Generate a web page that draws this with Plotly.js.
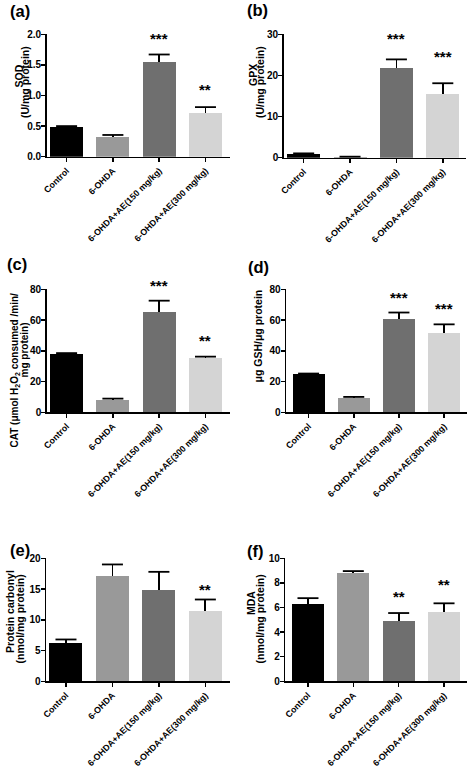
<!DOCTYPE html>
<html><head><meta charset="utf-8">
<script src="https://cdn.plot.ly/plotly-3.0.1.min.js"></script>
<style>html,body{margin:0;padding:0;background:#fff}#chart{width:472px;height:767px}</style>
</head><body><div id="chart"></div>
<script>
const categories = ["Control", "6-OHDA", "6-OHDA+AE(150 mg/kg)", "6-OHDA+AE(300 mg/kg)"];
const barColors = ["#000000", "#999999", "#6f6f6f", "#d4d4d4"];

const sodMean = [0.48, 0.33, 1.55, 0.72];
const sodErr  = [0.02, 0.025, 0.12, 0.09];
const sodStars = ["", "", "***", "**"];

const gpxMean = [0.9, 0.2, 21.9, 15.6];
const gpxErr  = [0.15, 0.05, 2.0, 2.5];
const gpxStars = ["", "", "***", "***"];

const catMean = [38.2, 8.3, 65.5, 35.6];
const catErr  = [0.3, 0.6, 7.1, 0.6];
const catStars = ["", "", "***", "**"];

const gshMean = [24.6, 9.6, 60.9, 51.6];
const gshErr  = [0.6, 0.4, 4.0, 5.6];
const gshStars = ["", "", "***", "***"];

const pcMean = [6.3, 17.2, 14.8, 11.4];
const pcErr  = [0.5, 1.8, 3.0, 1.9];
const pcStars = ["", "", "", "**"];

const mdaMean = [6.26, 8.83, 4.93, 5.64];
const mdaErr  = [0.5, 0.13, 0.62, 0.7];
const mdaStars = ["", "", "**", "**"];

const W = 472, H = 767;
const FONT = "Liberation Sans, Arial, sans-serif";

const panels = [
  {label:"(a)", mean:sodMean, err:sodErr, stars:sodStars, xpx:[46.7,230], ypx:[34.3,156.7], yrange:[0,2], dtick:0.5, fmt:".1f", xrange:[-0.43,3.53],
   labelPos:[20,11], starShift:[0,0,19.5,21],
   titles:[{t:"SOD", x:18.5, y:76, s:10.5}, {t:"(U/mg protein)", x:25.5, y:82.5, s:10.5}]},
  {label:"(b)", mean:gpxMean, err:gpxErr, stars:gpxStars, xpx:[283.7,466], ypx:[34.3,157.7], yrange:[0,30], dtick:10, fmt:"d", xrange:[-0.43,3.5],
   labelPos:[257,10], starShift:[0,0,24,29.5],
   titles:[{t:"GPX", x:253, y:75, s:10.5}, {t:"(U/mg protein)", x:260.5, y:82.5, s:10.5}]},
  {label:"(c)", mean:catMean, err:catErr, stars:catStars, xpx:[46.7,230], ypx:[289.3,412.3], yrange:[0,80], dtick:20, fmt:"d", xrange:[-0.43,3.53],
   labelPos:[17,264], starShift:[0,0,18.4,19.3],
   titles:[{t:"CAT (μmol H<sub>2</sub>O<sub>2</sub> consumed /min/", x:14.5, y:370, s:10}, {t:"mg protein)", x:23.5, y:350, s:10}]},
  {label:"(d)", mean:gshMean, err:gshErr, stars:gshStars, xpx:[286,466.7], ypx:[289.3,412.3], yrange:[0,80], dtick:20, fmt:"d", xrange:[-0.5,3.5],
   labelPos:[258.5,267], starShift:[0,0,17.7,19],
   titles:[{t:"μg GSH/μg protein", x:258, y:336.5, s:10.5}]},
  {label:"(e)", mean:pcMean, err:pcErr, stars:pcStars, xpx:[46,230], ypx:[558.3,681.3], yrange:[0,20], dtick:5, fmt:"d", xrange:[-0.43,3.53],
   labelPos:[20,550], starShift:[0,0,0,13],
   titles:[{t:"Protein carbonyl", x:10, y:612, s:10.5}, {t:"(nmol/mg protein)", x:19.5, y:619, s:10.5}]},
  {label:"(f)", mean:mdaMean, err:mdaErr, stars:mdaStars, xpx:[285.3,466.7], ypx:[558.3,681.3], yrange:[0,10], dtick:2, fmt:"d", xrange:[-0.5,3.5],
   labelPos:[255,551], starShift:[0,0,20,21.6],
   titles:[{t:"MDA", x:251, y:603, s:10.5}, {t:"(nmol/mg protein)", x:259, y:619.5, s:10.5}]}
];

const data = [];
const layout = {
  width: W, height: H, margin:{l:0,r:0,t:0,b:0},
  paper_bgcolor:"#fff", plot_bgcolor:"#fff", showlegend:false,
  font:{family:FONT, color:"#000", weight:"bold"},
  annotations: [], bargap: 0
};

panels.forEach((p, i) => {
  const n = i + 1;
  const xa = n === 1 ? "x" : "x" + n;
  const ya = n === 1 ? "y" : "y" + n;
  const xk = n === 1 ? "xaxis" : "xaxis" + n;
  const yk = n === 1 ? "yaxis" : "yaxis" + n;
  const tops = p.mean.map((v, k) => v + p.err[k]);

  data.push({
    type:"bar", x:categories, y:p.mean, xaxis:xa, yaxis:ya, width:0.71,
    marker:{color:barColors, line:{width:0}},
    error_y:{type:"data", symmetric:false, array:p.err, arrayminus:p.err.map(() => 0),
             width:0, thickness:1.8, color:"#000"},
    hoverinfo:"skip"
  });
  data.push({
    type:"scatter", mode:"markers", x:categories, y:tops, xaxis:xa, yaxis:ya,
    marker:{symbol:"line-ew", size:15, line:{width:1.8, color:"#000"}, color:"#000"},
    hoverinfo:"skip", cliponaxis:false
  });

  layout[xk] = {
    domain:[p.xpx[0]/W, p.xpx[1]/W], anchor:ya, type:"category", range:p.xrange,
    showline:true, linecolor:"#000", linewidth:1.5, ticks:"outside", ticklen:4, tickwidth:1.5, tickcolor:"#000",
    tickangle:-45, tickfont:{family:FONT, size:8.8, color:"#000", weight:"bold"},
    showgrid:false, zeroline:false, fixedrange:true
  };
  layout[yk] = {
    domain:[1 - p.ypx[1]/H, 1 - p.ypx[0]/H], anchor:xa, range:p.yrange, dtick:p.dtick, tick0:0,
    tickformat:p.fmt, showline:true, linecolor:"#000", linewidth:1.5, ticks:"outside", ticklen:4, tickwidth:1.5,
    tickcolor:"#000", tickfont:{family:FONT, size:10, color:"#000", weight:"bold"}, ticklabelstandoff:-2,
    showgrid:false, zeroline:false, fixedrange:true
  };

  layout.annotations.push({
    xref:"paper", yref:"paper", x:p.labelPos[0]/W, y:1 - p.labelPos[1]/H, text:p.label, showarrow:false,
    xanchor:"center", yanchor:"middle", font:{family:FONT, size:16.5, color:"#000", weight:"bold"}
  });
  p.titles.forEach(t => {
    layout.annotations.push({
      xref:"paper", yref:"paper", x:t.x/W, y:1 - t.y/H, text:t.t, showarrow:false, textangle:-90,
      xanchor:"center", yanchor:"middle", borderpad:0,
      font:{family:FONT, size:t.s, color:"#000", weight:"bold"}
    });
  });
  p.stars.forEach((s, k) => {
    if (!s) return;
    layout.annotations.push({
      xref:xa, yref:ya, x:categories[k], y:tops[k], text:s, showarrow:false,
      xanchor:"center", yanchor:"middle", yshift:p.starShift[k] - 3,
      font:{family:FONT, size:15, color:"#000", weight:"bold"}
    });
  });
});

Plotly.newPlot("chart", data, layout, {staticPlot:true, displayModeBar:false});
</script></body></html>
